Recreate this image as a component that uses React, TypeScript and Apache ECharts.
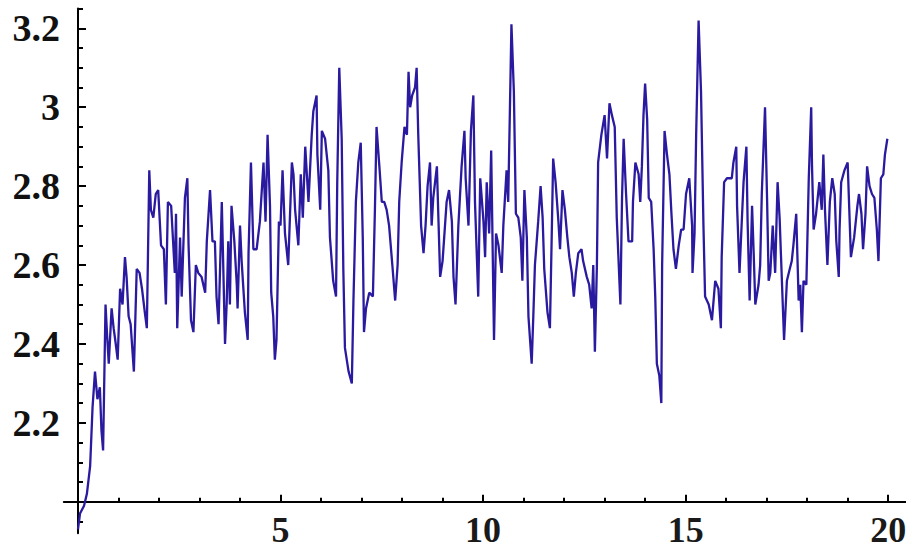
import React, { useEffect, useRef } from "react";
import * as echarts from "echarts";

// x positions and values (random-walk-like trace)
const xs = [
  0.0, 0.05, 0.15, 0.22, 0.3, 0.36, 0.42, 0.48, 0.54, 0.58, 0.62, 0.68, 0.72, 0.76, 0.83, 0.88, 0.92, 0.98,
  1.04, 1.1, 1.16, 1.2, 1.25, 1.3, 1.38, 1.45, 1.52, 1.58, 1.65, 1.7, 1.76, 1.8, 1.86, 1.92, 1.98, 2.05,
  2.12, 2.17, 2.22, 2.3, 2.39,
  2.42, 2.45, 2.52, 2.56, 2.64, 2.7, 2.73, 2.79, 2.85, 2.91, 2.97, 3.05, 3.14, 3.18, 3.26, 3.32, 3.38,
  3.42, 3.47, 3.51, 3.55, 3.63, 3.67, 3.71, 3.75, 3.79, 3.86, 3.92, 3.94, 4.0, 4.04, 4.12, 4.19, 4.21,
  4.27, 4.33, 4.41, 4.49, 4.58, 4.63, 4.68, 4.74, 4.77, 4.82, 4.86, 4.9, 4.96,
  5.0, 5.05, 5.11, 5.19, 5.28, 5.32, 5.36, 5.44, 5.5, 5.55, 5.61, 5.65, 5.69, 5.77, 5.81, 5.89, 5.91,
  5.98, 6.02, 6.1, 6.18, 6.22, 6.3, 6.37, 6.4, 6.45, 6.51, 6.55, 6.59, 6.68, 6.76, 6.8, 6.86, 6.92, 6.98,
  7.03, 7.06, 7.11, 7.19, 7.28, 7.33, 7.37, 7.44, 7.5, 7.56,
  7.62, 7.68, 7.76, 7.83, 7.89, 7.93, 7.99, 8.06, 8.12, 8.16, 8.2, 8.25, 8.32, 8.36, 8.4, 8.47, 8.53,
  8.58, 8.63, 8.69, 8.73, 8.77, 8.86, 8.9, 8.94, 9.0, 9.06, 9.1, 9.16, 9.23, 9.27, 9.32, 9.39, 9.47,
  9.54, 9.57, 9.64, 9.7, 9.76, 9.8, 9.88, 9.93, 10.01, 10.05, 10.09, 10.15,
  10.2, 10.27, 10.32, 10.38, 10.46, 10.5, 10.58, 10.62, 10.66, 10.7, 10.76, 10.81, 10.87, 10.93, 10.97,
  11.02, 11.08, 11.12, 11.2, 11.24, 11.28, 11.36, 11.42, 11.47, 11.51, 11.59, 11.65, 11.69, 11.73, 11.79,
  11.86, 11.9, 11.96, 12.02, 12.08, 12.13, 12.19, 12.24, 12.29, 12.35, 12.43, 12.47, 12.56, 12.62, 12.68,
  12.72, 12.76,
  12.81, 12.84, 12.92, 13.0, 13.06, 13.12, 13.18, 13.25, 13.3, 13.39, 13.43, 13.47, 13.53, 13.59, 13.68,
  13.7, 13.76, 13.84, 13.88, 13.92, 13.96, 14.0, 14.05, 14.09, 14.15, 14.21, 14.25, 14.29, 14.35, 14.4,
  14.42, 14.48, 14.54, 14.6, 14.65, 14.7, 14.76, 14.83, 14.89, 14.95, 15.01, 15.09, 15.16, 15.17, 15.22,
  15.26, 15.32,
  15.38, 15.44, 15.48, 15.57, 15.65, 15.73, 15.81, 15.87, 15.89, 15.95, 16.02, 16.14, 16.18, 16.25, 16.27,
  16.33, 16.39, 16.43, 16.5, 16.53, 16.58, 16.64, 16.68, 16.72, 16.8, 16.84, 16.88, 16.96, 17.01, 17.05,
  17.09, 17.15, 17.21, 17.27, 17.32, 17.38, 17.43, 17.5, 17.57, 17.62, 17.66, 17.73, 17.79, 17.83, 17.87,
  17.91,
  17.98, 18.04, 18.1, 18.12, 18.16, 18.22, 18.3, 18.36, 18.4, 18.44, 18.5, 18.56, 18.62, 18.68, 18.72,
  18.78, 18.8, 18.84, 18.92, 19.0, 19.04, 19.08, 19.16, 19.24, 19.28, 19.34, 19.38, 19.44, 19.48, 19.54,
  19.6, 19.66, 19.72, 19.76, 19.82, 19.88, 19.92, 19.98,
];

const ys = [
  1.93, 1.97, 1.99, 2.02, 2.09, 2.24, 2.33, 2.26, 2.29, 2.18, 2.13, 2.5, 2.42, 2.35, 2.49, 2.44, 2.41, 2.36,
  2.54, 2.5, 2.62, 2.57, 2.47, 2.45, 2.33, 2.59, 2.58, 2.54, 2.48, 2.44, 2.84, 2.74, 2.72, 2.78, 2.79, 2.65,
  2.64, 2.5, 2.76, 2.75, 2.58,
  2.73, 2.44, 2.67, 2.52, 2.77, 2.82, 2.65, 2.46, 2.43, 2.6, 2.58, 2.57, 2.53, 2.66, 2.79, 2.66, 2.66,
  2.52, 2.45, 2.6, 2.76, 2.4, 2.5, 2.66, 2.5, 2.75, 2.66, 2.55, 2.49, 2.7, 2.61, 2.48, 2.41, 2.63,
  2.86, 2.64, 2.64, 2.71, 2.86, 2.71, 2.93, 2.75, 2.53, 2.47, 2.36, 2.41, 2.71,
  2.7, 2.84, 2.68, 2.6, 2.86, 2.83, 2.74, 2.65, 2.83, 2.72, 2.9, 2.83, 2.76, 2.93, 2.99, 3.03, 2.88,
  2.74, 2.94, 2.92, 2.84, 2.67, 2.56, 2.52, 2.81, 3.1, 2.92, 2.59, 2.39, 2.33, 2.3, 2.51, 2.76, 2.86, 2.91,
  2.67, 2.43, 2.49, 2.53, 2.52, 2.74, 2.95, 2.85, 2.76, 2.76,
  2.74, 2.7, 2.6, 2.51, 2.6, 2.76, 2.86, 2.95, 2.93, 3.09, 3.0, 3.03, 3.05, 3.1, 2.93, 2.7, 2.63,
  2.7, 2.8, 2.86, 2.7, 2.77, 2.85, 2.71, 2.57, 2.61, 2.7, 2.76, 2.79, 2.71, 2.57, 2.5, 2.7, 2.85,
  2.94, 2.82, 2.7, 2.94, 3.03, 2.76, 2.52, 2.82, 2.71, 2.62, 2.81, 2.68,
  2.89, 2.41, 2.68, 2.65, 2.58, 2.7, 2.84, 2.76, 2.98, 3.21, 3.04, 2.73, 2.72, 2.67, 2.56,
  2.79, 2.67, 2.47, 2.35, 2.47, 2.6, 2.71, 2.8, 2.72, 2.59, 2.48, 2.44, 2.65, 2.87, 2.81,
  2.71, 2.64, 2.79, 2.74, 2.67, 2.62, 2.58, 2.52, 2.58, 2.63, 2.64, 2.61, 2.57, 2.55, 2.49,
  2.6, 2.38,
  2.6, 2.86, 2.93, 2.98, 2.87, 3.01, 2.98, 2.95, 2.72, 2.5, 2.77, 2.92, 2.78, 2.66, 2.66,
  2.76, 2.86, 2.83, 2.76, 2.85, 2.98, 3.06, 2.97, 2.77, 2.76, 2.64, 2.52, 2.35, 2.32, 2.25,
  2.6, 2.94, 2.88, 2.83, 2.73, 2.64, 2.59, 2.65, 2.69, 2.69, 2.78, 2.82, 2.7, 2.58, 2.68,
  2.93, 3.22,
  3.04, 2.7, 2.52, 2.5, 2.46, 2.56, 2.54, 2.44, 2.62, 2.81, 2.82, 2.82, 2.86, 2.9, 2.75,
  2.58, 2.72, 2.81, 2.9, 2.71, 2.51, 2.75, 2.63, 2.5, 2.55, 2.6, 2.78, 3.0, 2.77, 2.56,
  2.58, 2.7, 2.58, 2.81, 2.72, 2.55, 2.41, 2.56, 2.59, 2.61, 2.65, 2.73, 2.51, 2.55, 2.43,
  2.56,
  2.55, 2.82, 3.0, 2.85, 2.69, 2.73, 2.81, 2.74, 2.88, 2.74, 2.6, 2.76, 2.82, 2.78, 2.66,
  2.57, 2.69, 2.81, 2.84, 2.86, 2.74, 2.62, 2.67, 2.75, 2.78, 2.73, 2.64, 2.73, 2.85, 2.8,
  2.78, 2.77, 2.69, 2.61, 2.82, 2.83, 2.88, 2.92,
];

const yMajorTicks = [2.2, 2.4, 2.6, 2.8, 3, 3.2];
const yMinorTicks = [
  1.95, 2.05, 2.1, 2.15, 2.25, 2.3, 2.35, 2.45, 2.5, 2.55, 2.65, 2.7, 2.75, 2.85, 2.9, 2.95, 3.05, 3.1,
  3.15, 3.25,
];
const xMajorTicks = [5, 10, 15, 20];
const xMinorTicks = [1, 2, 3, 4, 6, 7, 8, 9, 11, 12, 13, 14, 16, 17, 18, 19];

const X_MIN = -0.35;
const X_MAX = 20.44;
const Y_MIN = 1.92;
const Y_MAX = 3.25;
const X_AXIS_AT_Y = 2.0;
const Y_AXIS_AT_X = 0;

const W = 906;
const H = 559;
const GRID = { left: 63.8, right: 0, top: 8.6, bottom: 25.7 };

export default function App() {
  const ref = useRef<HTMLDivElement>(null);

  useEffect(() => {
    if (!ref.current) return;
    const chart = echarts.init(ref.current, undefined, { renderer: "svg" });
    const plotW = W - GRID.left - GRID.right;
    const plotH = H - GRID.top - GRID.bottom;
    const xAxisOffset = -((X_AXIS_AT_Y - Y_MIN) / (Y_MAX - Y_MIN)) * plotH;
    const yAxisOffset = -((Y_AXIS_AT_X - X_MIN) / (X_MAX - X_MIN)) * plotW;

    const axisColor = "#000";
    const fontFamily = "Liberation Serif";

    chart.setOption({
      animation: false,
      backgroundColor: "#ffffff",
      grid: {
        left: GRID.left,
        right: GRID.right,
        top: GRID.top,
        bottom: GRID.bottom,
        containLabel: false,
        outerBoundsMode: "none",
      },
      xAxis: [
        {
          type: "value",
          min: X_MIN,
          max: X_MAX,
          position: "bottom",
          offset: xAxisOffset,
          axisLine: { show: true, onZero: false, lineStyle: { color: axisColor, width: 2 } },
          axisTick: {
            show: true,
            inside: true,
            length: 7,
            customValues: xMajorTicks,
            lineStyle: { color: axisColor, width: 2 },
          },
          axisLabel: {
            show: true,
            customValues: xMajorTicks,
            margin: 10,
            color: "#1a1a1a",
            fontFamily,
            fontWeight: "bold",
            fontSize: 36,
          },
          splitLine: { show: false },
        },
        {
          type: "value",
          min: X_MIN,
          max: X_MAX,
          position: "bottom",
          offset: xAxisOffset,
          axisLine: { show: false, onZero: false },
          axisTick: {
            show: true,
            inside: true,
            length: 4,
            customValues: xMinorTicks,
            lineStyle: { color: axisColor, width: 2 },
          },
          axisLabel: { show: false },
          splitLine: { show: false },
        },
      ],
      yAxis: [
        {
          type: "value",
          min: Y_MIN,
          max: Y_MAX,
          position: "left",
          offset: yAxisOffset,
          axisLine: { show: true, onZero: false, lineStyle: { color: axisColor, width: 2 } },
          axisTick: {
            show: true,
            inside: true,
            length: 8,
            customValues: yMajorTicks,
            lineStyle: { color: axisColor, width: 2 },
          },
          axisLabel: {
            show: true,
            customValues: yMajorTicks,
            margin: 18,
            color: "#111",
            fontFamily,
            fontWeight: "bold",
            fontSize: 38,
          },
          splitLine: { show: false },
        },
        {
          type: "value",
          min: Y_MIN,
          max: Y_MAX,
          position: "left",
          offset: yAxisOffset,
          axisLine: { show: false, onZero: false },
          axisTick: {
            show: true,
            inside: true,
            length: 5,
            customValues: yMinorTicks,
            lineStyle: { color: axisColor, width: 2 },
          },
          axisLabel: { show: false },
          splitLine: { show: false },
        },
      ],
      series: [
        {
          type: "line",
          xAxisIndex: 0,
          yAxisIndex: 0,
          data: xs.map((x, i) => [x, ys[i]]),
          showSymbol: false,
          symbol: "none",
          clip: false,
          lineStyle: { color: "#2a1aa0", width: 2.3 },
          z: 1,
        },
      ],
    });

    return () => chart.dispose();
  }, []);

  return (
    <div
      ref={ref}
      style={{ position: "fixed", left: 0, top: 0, width: W, height: H, background: "#fff" }}
    />
  );
}
